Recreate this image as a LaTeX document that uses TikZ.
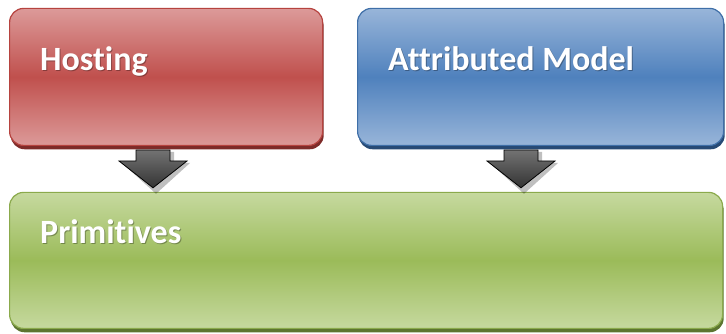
\documentclass[tikz,border=0pt]{standalone}
\usepackage{fontspec}
\setmainfont{Carlito}[Ligatures={NoCommon}]
\usetikzlibrary{calc}

\definecolor{redlight}{HTML}{DC9A99}
\definecolor{redmid}{HTML}{C0504D}
\definecolor{redline}{HTML}{B6433F}
\definecolor{redshade}{HTML}{7E2B29}
\definecolor{bluelight}{HTML}{98B5D9}
\definecolor{bluemid}{HTML}{4F81BD}
\definecolor{blueline}{HTML}{3F6FA8}
\definecolor{blueshade}{HTML}{274A75}
\definecolor{greenlight}{HTML}{C6D99F}
\definecolor{greenmid}{HTML}{9BBB59}
\definecolor{greenline}{HTML}{8BAA4C}
\definecolor{greenshade}{HTML}{5C7530}

\tikzset{
  block/.style={rectangle, rounded corners=14pt, line width=1.2pt, anchor=south west, inner sep=0pt},
  redbox/.style={block, draw=redline, top color=redlight, bottom color=redlight, middle color=redmid},
  bluebox/.style={block, draw=blueline, top color=bluelight, bottom color=bluelight, middle color=bluemid},
  greenbox/.style={block, draw=greenline, top color=greenlight, bottom color=greenlight, middle color=greenmid},
  boxshadow/.style={rectangle, rounded corners=14pt, anchor=south west, inner sep=0pt},
  label/.style={anchor=base west, inner sep=0pt, text=white, font=\bfseries\fontsize{34}{34}\selectfont},
  labelshadow/.style={label, text=black, opacity=0.3},
  blockarrow/.style={draw=black, line width=0.8pt, line join=miter, top color=black!55, bottom color=black!80},
  arrowshadow/.style={fill=black, opacity=0.25},
}

\begin{document}
\begin{tikzpicture}[x=1pt, y=1pt]
  \useasboundingbox (0,0) rectangle (726,334);

  % drop shadows under the boxes
  \node[boxshadow, fill=redshade, minimum width=313pt, minimum height=137pt] at (10.5,184.5) {};
  \node[boxshadow, fill=blueshade, minimum width=366pt, minimum height=137pt] at (358.5,184.5) {};
  \node[boxshadow, fill=greenshade, minimum width=713pt, minimum height=136pt] at (10.5,1.5) {};

  % the three blocks
  \node[redbox, minimum width=313pt, minimum height=137pt] (hosting) at (9,188) {};
  \node[bluebox, minimum width=366pt, minimum height=137pt] (model) at (357,188) {};
  \node[greenbox, minimum width=713pt, minimum height=136pt] (primitives) at (9,5) {};

  % block titles
  \node[labelshadow] at ($(hosting.north west)+(32,-64)$) {Hosting};
  \node[label] (hostingtxt) at ($(hosting.north west)+(31,-63)$) {Hosting};
  \node[labelshadow] at ($(model.north west)+(32,-64)$) {Attributed Model};
  \node[label] (modeltxt) at ($(model.north west)+(31,-63)$) {Attributed Model};
  \node[labelshadow] at ($(primitives.north west)+(32,-53)$) {Primitives};
  \node[label] (primtxt) at ($(primitives.north west)+(31,-52)$) {Primitives};

  % block arrows from the upper blocks down to the primitives block
  \coordinate (a1) at (hosting.south west -| 153,0);
  \coordinate (a2) at (model.south west -| 521,0);
  \foreach \c in {a1,a2}{
    \fill[arrowshadow]
      ($(\c)+(-14,-6)$) -- ($(\c)+(21,-6)$) -- ($(\c)+(21,-17)$) -- ($(\c)+(37,-17)$)
      -- ($(primitives.north -| \c)+(3,-2)$)
      -- ($(\c)+(-31,-17)$) -- ($(\c)+(-14,-17)$) -- cycle;
    \draw[blockarrow]
      ($(\c)+(-17,-4)$) -- ($(\c)+(17,-4)$) -- ($(\c)+(17,-15)$) -- ($(\c)+(34,-15)$)
      -- ($(primitives.north -| \c)+(0,4)$)
      -- ($(\c)+(-34,-15)$) -- ($(\c)+(-17,-15)$) -- cycle;
  }
\end{tikzpicture}
\end{document}
